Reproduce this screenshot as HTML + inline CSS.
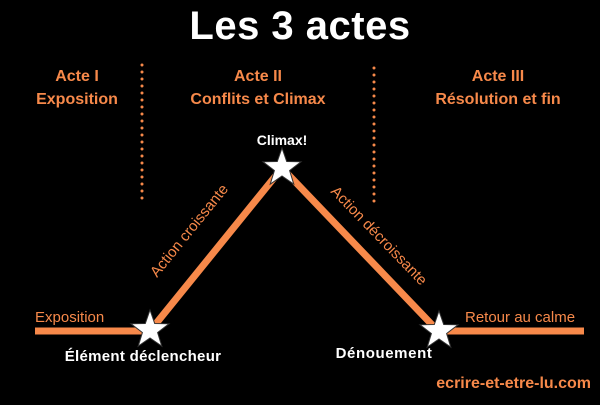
<!DOCTYPE html>
<html><head><meta charset="utf-8"><style>
body{margin:0;background:#000;width:600px;height:400px;overflow:hidden}
svg text{font-family:"Liberation Sans",sans-serif}
</style></head><body>
<svg width="600" height="400" viewBox="0 0 600 400">
<defs><polygon id="s" points="0,-20 4.7,-6.5 19,-6.2 7.6,2.5 11.8,16.2 0,8 -11.8,16.2 -7.6,2.5 -19,-6.2 -4.7,-6.5" fill="#fff" stroke="#333" stroke-width="1"/></defs>
<text x="300" y="39" text-anchor="middle" fill="#fff" font-size="40" font-weight="bold" letter-spacing="0.5">Les 3 actes</text>
<g fill="#f7894a" font-weight="bold" font-size="16" text-anchor="middle">
<text x="77" y="81">Acte I</text><text x="77" y="104">Exposition</text>
<text x="258" y="81">Acte II</text><text x="258" y="104">Conflits et Climax</text>
<text x="498" y="81">Acte III</text><text x="498" y="104">Résolution et fin</text>
</g>
<line x1="142" y1="65" x2="142" y2="205" stroke="#f7894a" stroke-width="3" stroke-linecap="round" stroke-dasharray="0 7"/>
<line x1="374" y1="68" x2="374" y2="205" stroke="#f7894a" stroke-width="3" stroke-linecap="round" stroke-dasharray="0 7"/>
<polyline points="35,331 150,331 282,168 438,331 584,331" fill="none" stroke="#f7894a" stroke-width="7"/>
<use href="#s" x="150" y="330"/><use href="#s" x="282" y="168"/><use href="#s" x="439" y="331"/>
<g fill="#f7894a" font-size="15">
<text x="35" y="322">Exposition</text>
<text x="465" y="322">Retour au calme</text>
<text transform="translate(157,278) rotate(-51)">Action croissante</text>
<text transform="translate(330,192) rotate(46)">Action décroissante</text>
</g>
<g fill="#fff" font-weight="bold" font-size="15">
<text x="143" y="361" text-anchor="middle" letter-spacing="0.3">Élément déclencheur</text>
<text x="384" y="358" text-anchor="middle" letter-spacing="0.6">Dénouement</text>
<text x="282" y="145" text-anchor="middle" font-size="14">Climax!</text>
</g>
<text x="591" y="388" text-anchor="end" fill="#f7894a" font-weight="bold" font-size="16">ecrire-et-etre-lu.com</text>
</svg>
</body></html>
